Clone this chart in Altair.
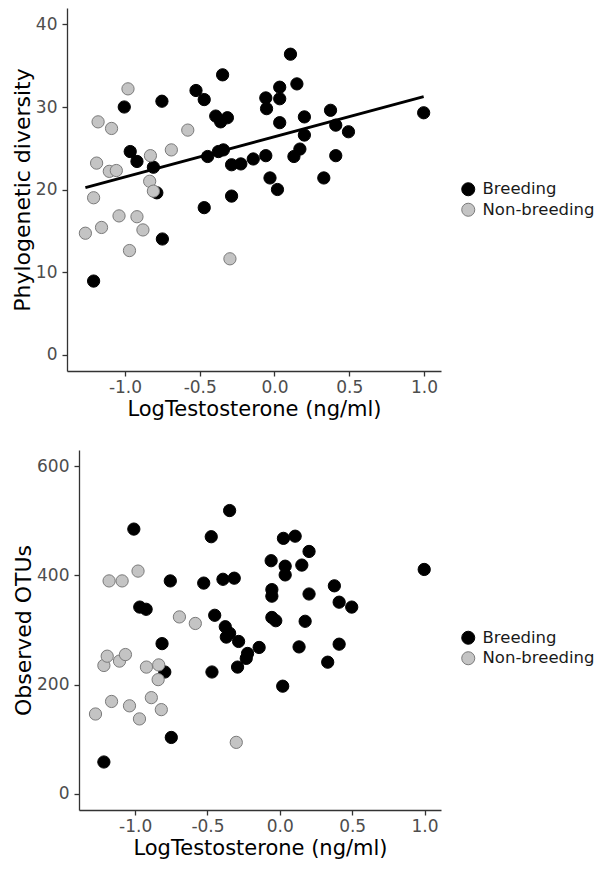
import altair as alt
import pandas as pd

groups = ["Breeding", "Non-breeding"]
fill_colors = ["#000000", "#c4c4c4"]
stroke_colors = ["#000000", "#7a7a7a"]

# ---- Panel 1: Phylogenetic diversity ----
top_breed_x = [-1.21, -1.005, -0.965, -0.92, -0.81, -0.787, -0.753, -0.75, -0.525, -0.47,
               -0.47, -0.447, -0.393, -0.375, -0.36, -0.347, -0.342, -0.315, -0.287, -0.287,
               -0.225, -0.142, -0.058, -0.058, -0.053, -0.03, 0.02, 0.035, 0.035, 0.035,
               0.107, 0.13, 0.15, 0.17, 0.2, 0.2, 0.33, 0.375, 0.41, 0.41,
               0.495, 0.998]
top_breed_y = [8.9, 30.0, 24.6, 23.4, 22.7, 19.6, 30.7, 14.0, 32.0, 30.9,
               17.8, 24.0, 28.9, 24.6, 28.2, 33.9, 24.8, 28.7, 23.0, 19.2,
               23.1, 23.7, 31.1, 24.1, 29.8, 21.4, 20.0, 32.4, 31.0, 28.1,
               36.4, 24.0, 32.8, 24.9, 28.8, 26.6, 21.4, 29.6, 27.8, 24.1,
               27.0, 29.3]
top_non_x = [-1.265, -1.21, -1.19, -1.18, -1.157, -1.105, -1.09, -1.058, -1.04, -0.98,
             -0.97, -0.92, -0.88, -0.835, -0.83, -0.81, -0.69, -0.58, -0.298]
top_non_y = [14.7, 19.0, 23.2, 28.2, 15.4, 22.2, 27.4, 22.3, 16.8, 32.2,
             12.6, 16.7, 15.1, 21.0, 24.1, 19.8, 24.8, 27.2, 11.6]

# ---- Panel 2: Observed OTUs ----
bot_breed_x = [-1.216, -1.009, -0.968, -0.924, -0.814, -0.795, -0.757, -0.75, -0.526, -0.474,
               -0.469, -0.45, -0.393, -0.377, -0.37, -0.347, -0.347, -0.315, -0.292, -0.285,
               -0.232, -0.223, -0.143, -0.06, -0.055, -0.055, -0.055, -0.028, 0.02, 0.025,
               0.037, 0.037, 0.106, 0.133, 0.152, 0.175, 0.202, 0.202, 0.331, 0.377,
               0.41, 0.41, 0.497, 0.998]
bot_breed_y = [58, 485, 342, 338, 275, 223, 390, 103, 386, 471,
               223, 327, 393, 306, 287, 519, 294, 395, 232, 279,
               248, 257, 268, 427, 374, 362, 323, 317, 197, 468,
               417, 401, 472, 269, 419, 316, 444, 366, 241, 381,
               351, 274, 342, 411]
bot_non_x = [-1.274, -1.216, -1.193, -1.18, -1.163, -1.108, -1.09, -1.067, -1.039, -0.98,
             -0.97, -0.922, -0.888, -0.841, -0.837, -0.819, -0.694, -0.584, -0.301]
bot_non_y = [146, 235, 252, 390, 169, 243, 390, 255, 161, 408,
             137, 232, 176, 209, 236, 154, 324, 312, 94]

x_domain = [-1.388, 1.114]
x_ticks = [-1.0, -0.5, 0.0, 0.5, 1.0]
x_title = "LogTestosterone (ng/ml)"

top_y_domain = [-2, 42]
top_y_ticks = [0, 10, 20, 30, 40]
top_y_title = "Phylogenetic diversity"

bot_y_domain = [-30, 630]
bot_y_ticks = [0, 200, 400, 600]
bot_y_title = "Observed OTUs"

FONT = "DejaVu Sans"


def make_df(bx, by, nx, ny):
    return pd.DataFrame({
        "x": bx + nx,
        "y": by + ny,
        "group": [groups[0]] * len(bx) + [groups[1]] * len(nx),
    })


def x_enc(x_range):
    return alt.X("x:Q", scale=alt.Scale(domain=x_domain, range=x_range, nice=False, zero=False),
                 axis=alt.Axis(values=x_ticks, title=x_title,
                               labelExpr="replace(format(datum.value, '.1f'), '\u2212', '-')"))


def y_enc(dom, ticks, title, offset):
    return alt.Y("y:Q", scale=alt.Scale(domain=dom, nice=False, zero=False),
                 axis=alt.Axis(values=ticks, title=title, format="d", offset=offset))


def legend(lx, ly):
    return alt.Legend(title=None, orient="none", legendX=lx, legendY=ly,
                      symbolType="circle", symbolSize=170, symbolStrokeWidth=1,
                      labelFontSize=16.5, labelFont=FONT, labelColor="#1a1a1a",
                      rowPadding=2.5, labelOffset=6, padding=0)


def point_layer(df, x_range, dom, ticks, title, offset, lx, ly):
    return alt.Chart(df).mark_point(shape="circle", filled=True, size=150,
                                    strokeWidth=1, opacity=1).encode(
        x=x_enc(x_range),
        y=y_enc(dom, ticks, title, offset),
        fill=alt.Fill("group:N", scale=alt.Scale(domain=groups, range=fill_colors),
                      legend=legend(lx, ly)),
        stroke=alt.Stroke("group:N", scale=alt.Scale(domain=groups, range=stroke_colors),
                          legend=legend(lx, ly)),
    )


df_top = make_df(top_breed_x, top_breed_y, top_non_x, top_non_y)
df_bot = make_df(bot_breed_x, bot_breed_y, bot_non_x, bot_non_y)

TOP_RANGE = [-12, 362]
BOT_RANGE = [0, 362]

top_points = point_layer(df_top, TOP_RANGE, top_y_domain, top_y_ticks, top_y_title, 12, 381, 173)
top_fit = alt.Chart(df_top).transform_regression("x", "y").mark_line(
    color="black", strokeWidth=2.8).encode(
    x=x_enc(TOP_RANGE), y=y_enc(top_y_domain, top_y_ticks, top_y_title, 12))
top = alt.layer(top_points, top_fit).properties(width=362, height=363)

bottom = point_layer(df_bot, BOT_RANGE, bot_y_domain, bot_y_ticks, bot_y_title, 0, 381, 179.5).properties(
    width=362, height=360)

chart = alt.ConcatChart(concat=[top, bottom], columns=1, spacing=30).resolve_scale(
    fill="independent", stroke="independent").resolve_legend(
    fill="independent", stroke="independent").properties(
    padding={"left": 3, "top": 0, "right": 0, "bottom": 0}
).configure_view(stroke=None).configure_axis(
    grid=False,
    domainColor="#333333", domainWidth=1.3,
    tickColor="#333333", tickWidth=1.3, tickSize=5,
    labelFont=FONT, labelFontSize=17, labelColor="#4d4d4d",
    titleFont=FONT, titleFontWeight="normal", titleColor="#000000",
).configure_axisX(labelPadding=3, titlePadding=3.5, titleFontSize=21).configure_axisY(
    labelPadding=5, titlePadding=1, titleFontSize=22)

chart.save("out.html", embed_options={"renderer": "svg", "actions": False})
